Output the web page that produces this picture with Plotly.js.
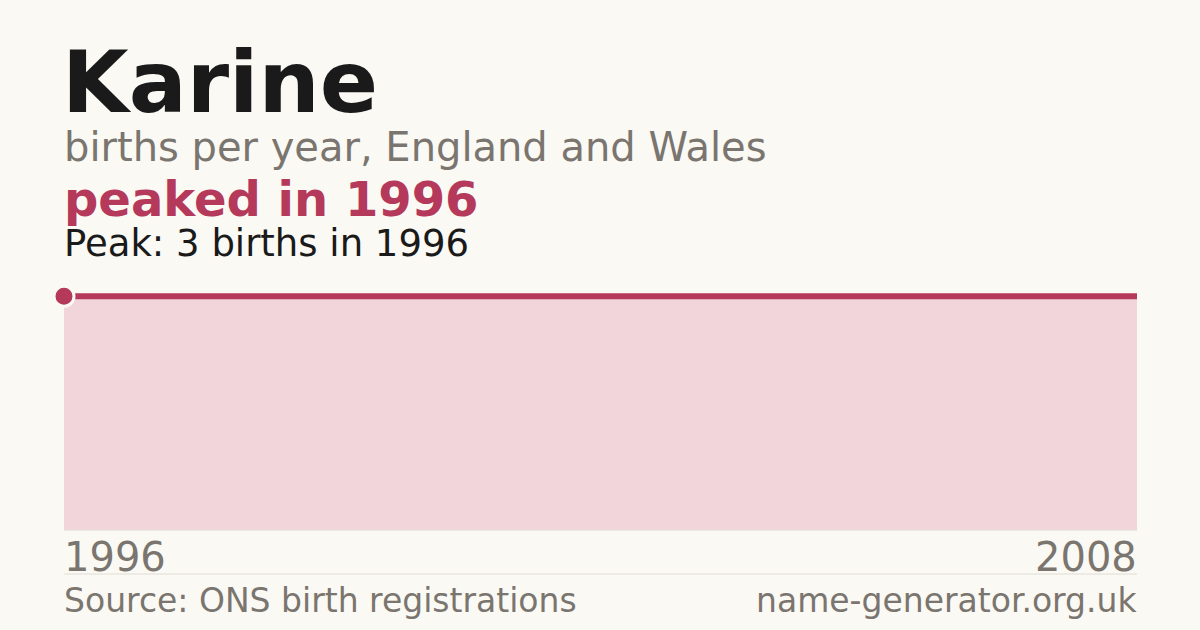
<!DOCTYPE html>
<html>
<head>
<meta charset="utf-8">
<script src="https://cdn.plot.ly/plotly-3.0.1.min.js"></script>
<style>
  html, body { margin: 0; padding: 0; background: #faf9f4; }
  #chart { width: 1200px; height: 630px; }
</style>
</head>
<body>
<div id="chart"></div>
<script>
// data
var years  = [1996, 1997, 1998, 1999, 2000, 2001, 2002, 2003, 2004, 2005, 2006, 2007, 2008];
var births = [3, 3, 3, 3, 3, 3, 3, 3, 3, 3, 3, 3, 3];
var peakYear = [1996];
var peakBirths = [3];

var red = '#b5395a';
var grey = '#7a756e';
var font = 'DejaVu Sans, sans-serif';

// pixel -> paper helper (plot area is 273..530 tall)
var T = 273, B = 530;
function py(p) { return (B - p) / (B - T); }

var traces = [
  {
    x: years, y: births, type: 'scatter', mode: 'lines',
    line: { color: red, width: 6 },
    fill: 'tozeroy', fillcolor: '#f2d5da',
    hoverinfo: 'skip'
  },
  {
    x: peakYear, y: peakBirths, type: 'scatter', mode: 'markers',
    marker: { color: red, size: 20, line: { color: '#faf9f4', width: 3 } },
    cliponaxis: false,
    hoverinfo: 'skip'
  }
];

function note(text, x, yPix, size, color, bold, xanchor) {
  return {
    text: bold ? '<b>' + text + '</b>' : text,
    xref: 'paper', yref: 'paper', x: x, y: py(yPix),
    xanchor: xanchor || 'left', yanchor: 'middle',
    showarrow: false,
    font: { family: font, size: size, color: color }
  };
}

var layout = {
  width: 1200, height: 630,
  paper_bgcolor: '#faf9f4',
  plot_bgcolor: '#faf9f4',
  margin: { l: 64, r: 63, t: T, b: 630 - B },
  showlegend: false,
  xaxis: { range: [years[0], years[years.length - 1]], visible: false, fixedrange: true },
  yaxis: { range: [0, 3.3], visible: false, fixedrange: true },
  annotations: [
    note('Karine', -0.004, 82, 86, '#1a1a1a', true),
    note('births per year, England and Wales', -0.002, 147, 40, grey, false),
    note('peaked in 1996', -0.002, 199, 48, red, true),
    note('Peak: 3 births in 1996', -0.002, 243, 37, '#1a1a1a', false),
    note(String(years[0]), -0.002, 557, 40, grey, false),
    note(String(years[years.length - 1]), 1.002, 557, 40, grey, false, 'right'),
    note('Source: ONS birth registrations', -0.002, 600, 33, grey, false),
    note('name-generator.org.uk', 1.002, 600, 33, grey, false, 'right')
  ],
  shapes: [
    { type: 'line', xref: 'paper', yref: 'paper', x0: 0, x1: 1, y0: 0, y1: 0,
      line: { color: '#e0dcd4', width: 1 } },
    { type: 'line', xref: 'paper', yref: 'paper', x0: 0, x1: 1, y0: py(574), y1: py(574),
      line: { color: '#e0dcd4', width: 1 } }
  ]
};

Plotly.newPlot('chart', traces, layout, { staticPlot: true, displayModeBar: false });
</script>
</body>
</html>
